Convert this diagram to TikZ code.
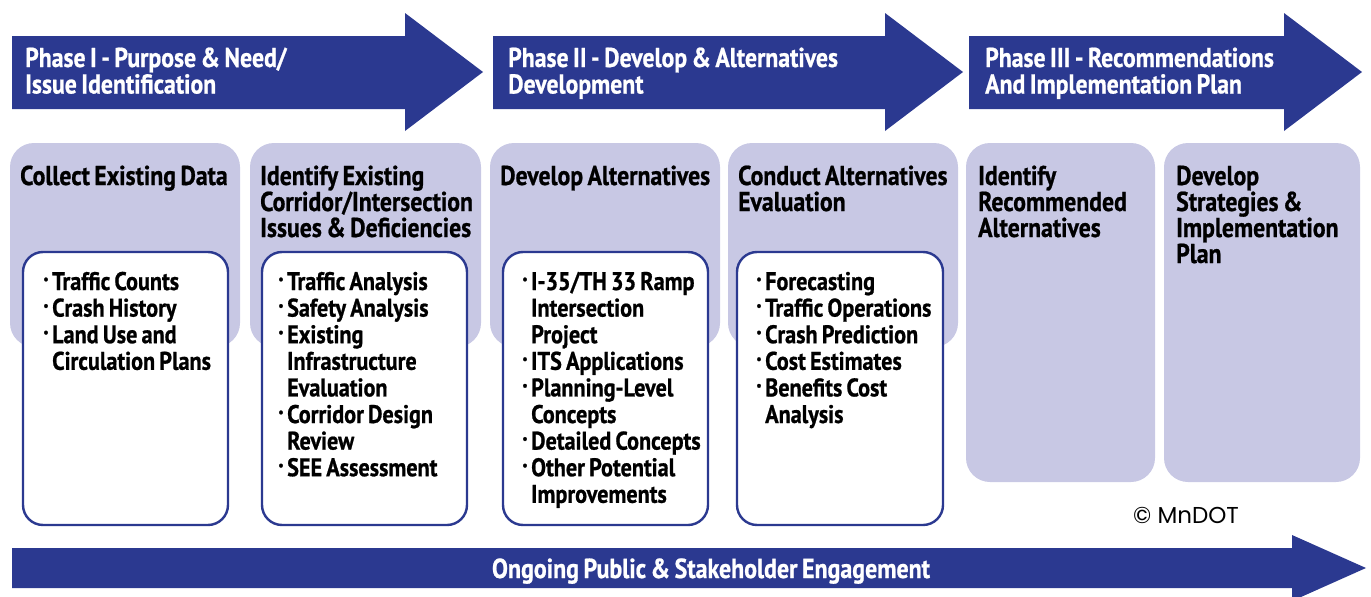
\documentclass[tikz,border=0pt]{standalone}
\usepackage{fontspec}
\newfontfamily\condfont[FakeStretch=0.87, WordSpace=0.75, BoldFeatures={FakeBold=0.8}]{PT Sans}
\newfontfamily\markfont{Poppins}
\definecolor{navy}{RGB}{43,57,144}
\definecolor{lavender}{RGB}{200,200,228}
% bullet and continuation indents for the item lists
\newcommand\bi{\makebox[9pt][l]{\raisebox{2.5pt}{\textperiodcentered}}}
\newcommand\ci{\hspace*{9pt}}
% keep the font's own word space inside wrapped text nodes
\newcommand\fontspaces{\spaceskip=\fontdimen2\font\relax\xspaceskip=\fontdimen2\font\relax}
\tikzset{
  phasearrow/.style={fill=navy},
  stepcard/.style={fill=lavender, rounded corners=24pt},
  itemcard/.style={draw=navy, line width=2.4pt, fill=white, rounded corners=20pt},
  blocktext/.style={anchor=base west, inner sep=0pt, align=left, execute at begin node=\fontspaces},
  phasetext/.style={blocktext, text=white, text width=460pt,
    font=\condfont\bfseries\fontsize{27.3}{26.5}\selectfont},
  steptext/.style={blocktext, text=black, text width=240pt,
    font=\condfont\bfseries\fontsize{27.3}{26}\selectfont},
  listtext/.style={blocktext, text=black, text width=240pt,
    font=\condfont\bfseries\fontsize{25.5}{26.6}\selectfont},
}
\begin{document}
\begin{tikzpicture}[x=1pt, y=-1pt]
\useasboundingbox (0,0) rectangle (1371,597);

% phase arrows
\fill[phasearrow] (12,36) -- (405,36) -- (405,13) -- (483,72) -- (405,131) -- (405,109) -- (12,109) -- cycle;
\fill[phasearrow] (493,36) -- (885,36) -- (885,13) -- (963,72) -- (885,131) -- (885,109) -- (493,109) -- cycle;
\fill[phasearrow] (969,36) -- (1284,36) -- (1284,13) -- (1362,72) -- (1284,131) -- (1284,109) -- (969,109) -- cycle;
\node[phasetext] (p1) at (25,67) {Phase I - Purpose \& Need/\\Issue Identification};
\node[phasetext] (p2) at (508,67) {Phase II - Develop \& Alternatives\\Development};
\node[phasetext] (p3) at (985,67) {Phase III - Recommendations\\And Implementation Plan};

% step cards
\fill[stepcard] (10,143) rectangle (240,347);
\fill[stepcard] (250,143) rectangle (481,347);
\fill[stepcard] (490,143) rectangle (720,347);
\fill[stepcard] (728,143) rectangle (958,347);
\fill[stepcard] (966,143) rectangle (1155,482);
\fill[stepcard] (1164,143) rectangle (1360,482);

\node[steptext] (s1) at (20,185) {Collect Existing Data};
\node[steptext] (s2) at (260,185) {Identify Existing\\Corridor/Intersection\\Issues \& Deficiencies};
\node[steptext] (s3) at (500,185) {Develop Alternatives};
\node[steptext] (s4) at (738,185) {Conduct Alternatives\\Evaluation};
\node[steptext] (s5) at (978,185) {Identify\\Recommended\\Alternatives};
\node[steptext] (s6) at (1176,185) {Develop\\Strategies \&\\Implementation\\Plan};

% item cards
\draw[itemcard] (23,252) rectangle (228,525);
\draw[itemcard] (262,252) rectangle (467,525);
\draw[itemcard] (503,252) rectangle (708,525);
\draw[itemcard] (737,252) rectangle (943,525);

\node[listtext] (l1) at (43,290) {\bi Traffic Counts\\\bi Crash History\\\bi Land Use and\\\ci Circulation Plans};
\node[listtext] (l2) at (278,290) {\bi Traffic Analysis\\\bi Safety Analysis\\\bi Existing\\\ci Infrastructure\\\ci Evaluation\\\bi Corridor Design\\\ci Review\\\bi SEE Assessment};
\node[listtext] (l3) at (522,290) {\bi I-35/TH 33 Ramp\\\ci Intersection\\\ci Project\\\bi ITS Applications\\\bi Planning-Level\\\ci Concepts\\\bi Detailed Concepts\\\bi Other Potential\\\ci Improvements};
\node[listtext] (l4) at (756,290) {\bi Forecasting\\\bi Traffic Operations\\\bi Crash Prediction\\\bi Cost Estimates\\\bi Benefits Cost\\\ci Analysis};

% credit
\node[anchor=base west, inner sep=0pt, font=\markfont\fontsize{23}{24}\selectfont] (credit) at (1133,523) {© MnDOT};

% engagement arrow
\fill[phasearrow] (12,548) -- (1292,548) -- (1292,535) -- (1366,568) -- (1292,601) -- (1292,588) -- (12,588) -- cycle;
\node[anchor=base, inner sep=0pt, text=white, font=\condfont\bfseries\fontsize{27.5}{26.5}\selectfont] (eng) at (711,578) {Ongoing Public \& Stakeholder Engagement};
\end{tikzpicture}
\end{document}
